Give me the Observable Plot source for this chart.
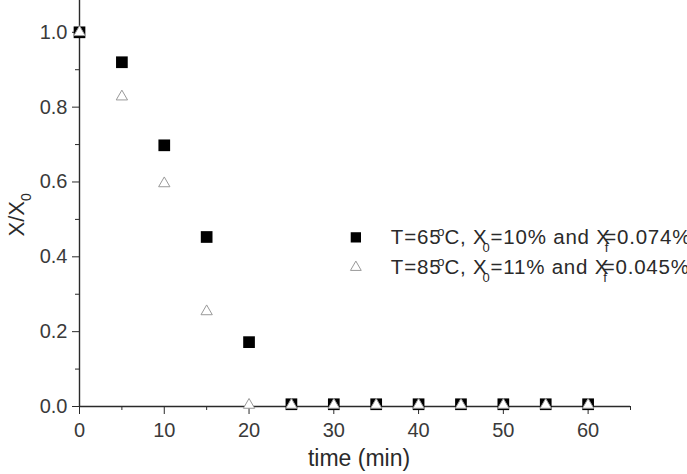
<!DOCTYPE html>
<html>
<head>
<meta charset="utf-8">
<script src="https://cdn.jsdelivr.net/npm/d3@7"></script>
<script src="https://cdn.jsdelivr.net/npm/@observablehq/plot@0.6"></script>
<style>
  html, body { margin: 0; padding: 0; background: #fff; }
  svg { font-family: "Liberation Sans", Arial, sans-serif; }
</style>
</head>
<body>
<div id="chart"></div>
<script>
const times = [0, 5, 10, 15, 20, 25, 30, 35, 40, 45, 50, 55, 60];
const ratio65 = [1.0, 0.92, 0.698, 0.453, 0.172, 0.006, 0.006, 0.006, 0.006, 0.006, 0.006, 0.006, 0.006];
const ratio85 = [1.0, 0.828, 0.596, 0.254, 0.004, 0.004, 0.004, 0.004, 0.004, 0.004, 0.004, 0.004, 0.004];
const xMajor = [0, 10, 20, 30, 40, 50, 60];
const xMinor = [5, 15, 25, 35, 45, 55, 65];
const yMajor = [0, 0.2, 0.4, 0.6, 0.8, 1.0];
const yMinor = [0.1, 0.3, 0.5, 0.7, 0.9];
const legendLabels = ["T=65oC, X0=10% and Xf=0.074%", "T=85oC, X0=11% and Xf=0.045%"];
const legendX = [32.6, 32.6];
const legendY = [0.452, 0.372];
const xLabel = "time (min)";
const yLabel = "X/X0";

const s65 = times.map((t, i) => ({t, v: ratio65[i]}));
const s85 = times.map((t, i) => ({t, v: ratio85[i]}));
const ink = "#2a2a2a";

const chart = Plot.plot({
  width: 687,
  height: 474,
  marginLeft: 79,
  marginRight: 57,
  marginTop: 0,
  marginBottom: 68,
  style: {fontFamily: "Liberation Sans, Arial, sans-serif", color: ink, background: "#fff"},
  x: {domain: [0, 65]},
  y: {domain: [0, 1.085]},
  marks: [
    Plot.axisX({ticks: xMajor, tickSize: 8, tickPadding: 8, fontSize: 20, stroke: ink, fill: "#3a3a3a",
      tickFormat: d => String(d), label: null}),
    Plot.axisX({ticks: xMinor, tickSize: 4, tickFormat: () => "", label: null, stroke: ink}),
    Plot.axisY({ticks: yMajor, tickSize: 7, tickPadding: 5, fontSize: 20, stroke: ink, fill: "#3a3a3a",
      tickFormat: d3.format(".1f"), label: null}),
    Plot.axisY({ticks: yMinor, tickSize: 4, tickFormat: () => "", label: null, stroke: ink}),
    Plot.ruleY([0], {stroke: ink, strokeWidth: 1.4}),
    Plot.ruleX([0], {stroke: ink, strokeWidth: 1.4}),
    Plot.text([xLabel], {frameAnchor: "bottom", dx: 4, dy: 59, fontSize: 23, fill: ink}),
    Plot.text([yLabel], {frameAnchor: "left", rotate: -90, dx: -63, dy: 33, fontSize: 22, fill: ink}),
    Plot.dot(s65, {x: "t", y: "v", symbol: "square", r: 6.6, fill: "#000", stroke: "none"}),
    Plot.dot(s85, {x: "t", y: "v", symbol: "triangle", r: 4.2, fill: "#fff", stroke: "#999", strokeWidth: 1}),
    Plot.dot([0], {x: legendX[0], y: legendY[0], symbol: "square", r: 5.8, fill: "#000", stroke: "none"}),
    Plot.dot([0], {x: legendX[1], y: legendY[1], symbol: "triangle", r: 4, fill: "#fff", stroke: "#999", strokeWidth: 1}),
    Plot.text(legendLabels, {x: (d, i) => legendX[i], y: (d, i) => legendY[i], text: d => d, dx: 35, textAnchor: "start",
      fontSize: 20.5, fill: ink})
  ]
});
document.getElementById("chart").appendChild(chart);

function rich(textEl, parts, spacing) {
  while (textEl.firstChild) textEl.removeChild(textEl.firstChild);
  const sel = d3.select(textEl);
  if (spacing) sel.attr("letter-spacing", spacing);
  for (const p of parts) {
    const ts = sel.append("tspan").text(p.t);
    if (p.dx) ts.attr("dx", p.dx);
    if (p.dy) ts.attr("dy", p.dy);
    if (p.size) ts.attr("font-size", p.size);
  }
}
d3.select(chart).selectAll("text").each(function() {
  const s = this.textContent;
  if (s === yLabel) {
    rich(this, [{t: "X/X"}, {t: "0", size: 14, dy: 7}]);
  } else {
    const m = s.match(/^T=(\d+)oC, X0=(\d+%) and Xf=(.*)$/);
    if (m) {
      rich(this, [
        {t: "T=" + m[1]},
        {t: "o", size: 13, dx: -4, dy: -8},
        {t: "C, X", dx: -1, dy: 8},
        {t: "0", size: 13, dx: -5, dy: 8},
        {t: "=" + m[2] + " and X", dy: -8},
        {t: "f", size: 13, dx: -6, dy: 8},
        {t: "=" + m[3], dx: -5, dy: -8}
      ], 0.8);
    }
  }
});
</script>
</body>
</html>
